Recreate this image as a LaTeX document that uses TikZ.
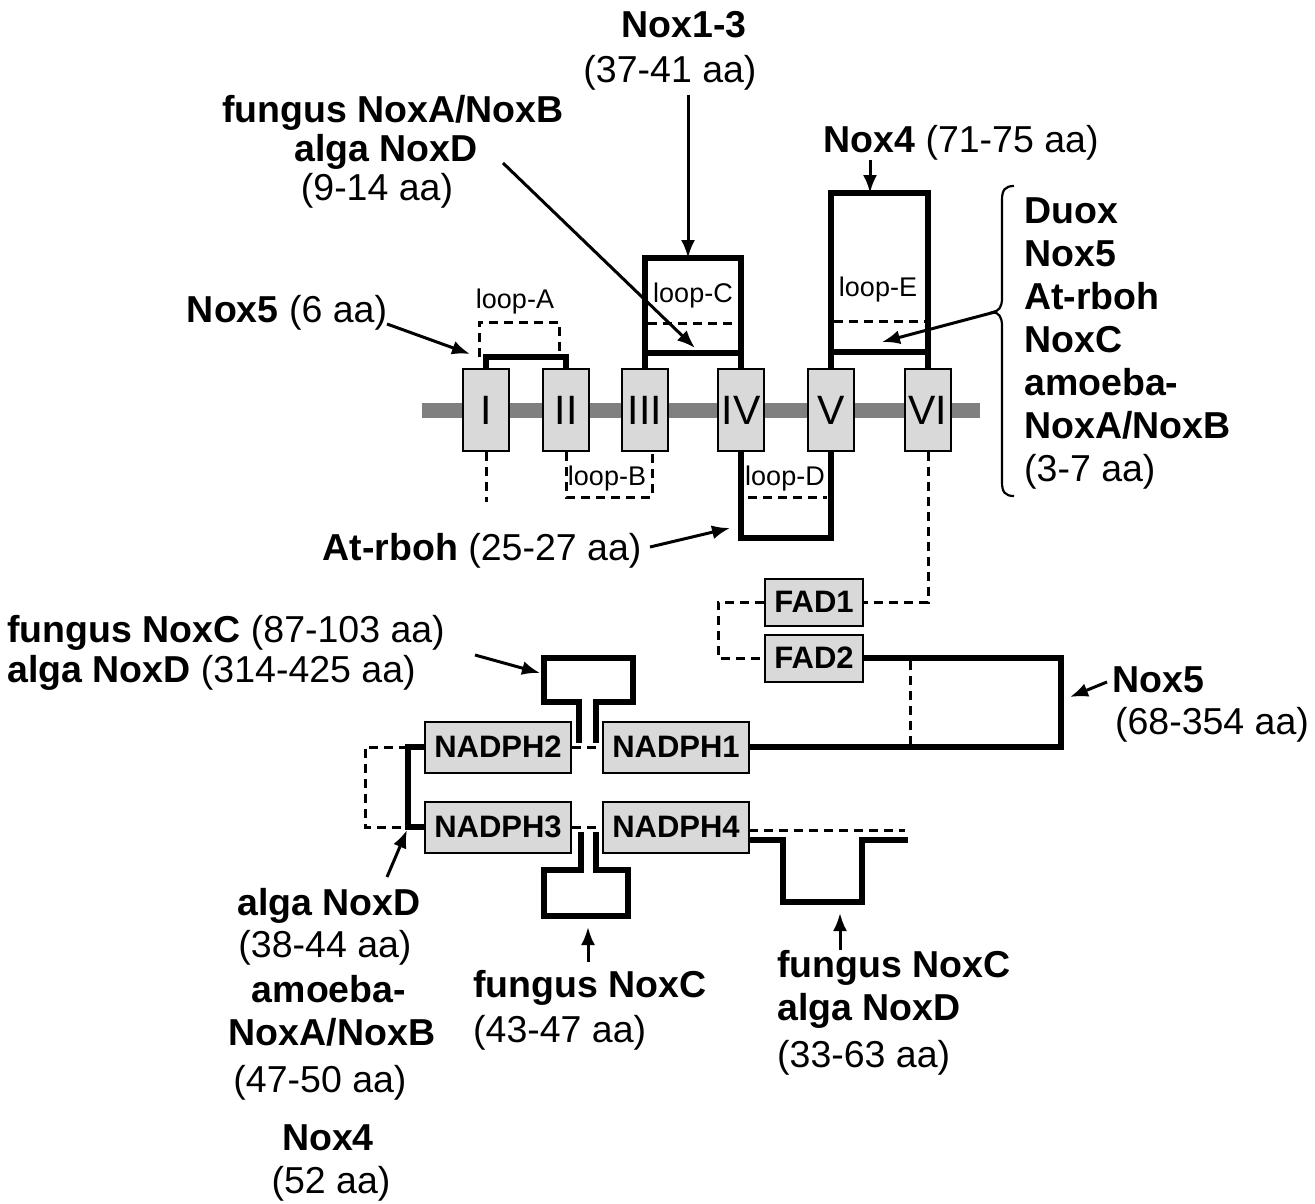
\documentclass[tikz,border=0pt]{standalone}
\usepackage{fontspec}
\setmainfont{Liberation Sans}
\usetikzlibrary{arrows.meta}
\definecolor{boxfill}{HTML}{D9D9D9}
\definecolor{barcol}{HTML}{808080}
\begin{document}
\begin{tikzpicture}[x=1pt,y=-1pt,
  txt/.style={inner sep=0pt, font=\fontsize{37.5}{44}\selectfont},
  looplbl/.style={inner sep=0pt, font=\fontsize{27}{30}\selectfont},
  tmbox/.style={draw=black, line width=2pt, fill=boxfill, minimum width=46pt, minimum height=82pt, inner sep=0pt, font=\fontsize{41}{44}\selectfont},
  dombox/.style={draw=black, line width=2pt, fill=boxfill, inner sep=0pt, font=\fontsize{31}{34}\selectfont\bfseries},
  thk/.style={line width=5.5pt, line join=miter},
  dsh/.style={line width=3pt, dash pattern=on 9pt off 6pt},
  arr/.style={line width=3pt, -{Latex[length=18pt,width=14pt]}},
  brace/.style={line width=2.2pt}
]
\useasboundingbox (0,0) rectangle (1315,1203);
\fill[white] (0,0) rectangle (1315,1203);

% membrane
\coordinate (mL) at (422,410);
\coordinate (mR) at (980,410);
\draw[barcol, line width=15pt] (mL) -- (mR);

% transmembrane boxes
\node[tmbox] (tmI) at (486,410) {I};
\node[tmbox] (tmII) at (566,410) {II};
\node[tmbox] (tmIII) at (645,410) {III};
\node[tmbox] (tmIV) at (741,410) {IV};
\node[tmbox] (tmV) at (831,410) {V};
\node[tmbox] (tmVI) at (928,410) {VI};

% loop A
\draw[dsh] (479,357) -- (479,322) -- (559,322) -- (559,357);
\draw[thk] (tmI.north) -- (486,357) -- (566,357) -- (tmII.north);
\node[looplbl, anchor=base] (lA) at (515,308) {loop-A};

% loop B
\draw[dsh] (tmI.south) -- (486,502);
\draw[dsh] (tmII.south) -- (566,497) -- (652,497) -- (652,451);
\node[looplbl, anchor=base] (lB) at (607,485) {loop-B};

% loop C
\draw[thk] (tmIII.north) -- (645,258) -- (741,258) -- (tmIV.north);
\draw[thk] (645,353) -- (741,353);
\draw[dsh] (648,323) -- (738,323);
\node[looplbl, anchor=base] (lC) at (693,302) {loop-C};

% loop D
\draw[thk] (tmIV.south) -- (741,538) -- (831,538) -- (tmV.south);
\draw[dsh] (748,497) -- (827,497);
\node[looplbl, anchor=base] (lD) at (785,485) {loop-D};

% loop E
\draw[thk] (tmV.north) -- (831,193) -- (928,193) -- (tmVI.north);
\draw[thk] (831,352) -- (928,352);
\draw[dsh] (834,321) -- (925,321);
\node[looplbl, anchor=base] (lE) at (878,296) {loop-E};

% FAD boxes
\node[dombox, minimum width=98pt, minimum height=47pt] (FAD1) at (814,602) {FAD1};
\node[dombox, minimum width=98pt, minimum height=47pt] (FAD2) at (814,658) {FAD2};
\draw[dsh] (tmVI.south) -- (928,602) -- (FAD1.east);
\draw[dsh] (FAD1.west) -- (718,602) -- (718,658) -- (FAD2.west);

% NADPH boxes
\node[dombox, minimum width=146pt, minimum height=51pt] (N1) at (676,747) {NADPH1};
\node[dombox, minimum width=146pt, minimum height=51pt] (N2) at (498,747) {NADPH2};
\node[dombox, minimum width=146pt, minimum height=51pt] (N3) at (498,827) {NADPH3};
\node[dombox, minimum width=146pt, minimum height=51pt] (N4) at (676,827) {NADPH4};

\draw[thk] (FAD2.east) -- (1061,658) -- (1061,747) -- (N1.east);
\draw[dsh] (910,661) -- (910,745);

% top T insertion
\draw[dsh] (N2.east) -- (N1.west);
\draw[thk] (579,743) -- (579,702) -- (544,702) -- (544,658) -- (633,658) -- (633,702) -- (596,702) -- (596,743);

% left link
\draw[dsh] (408,747) -- (365,747) -- (365,827) -- (408,827);
\draw[thk] (N2.west) -- (408,747) -- (408,827) -- (N3.west);

% bottom T insertion
\draw[dsh] (N3.east) -- (N4.west);
\draw[thk] (581,832) -- (581,870) -- (544,870) -- (544,916) -- (628,916) -- (628,870) -- (596,870) -- (596,832);

% C-terminal tail
\draw[dsh] (749,830) -- (905,830);
\draw[thk] (749,840) -- (783,840) -- (783,902) -- (862,902) -- (862,840) -- (908,840);

% bracket
\draw[brace] (1014,186) .. controls (1005,186) and (1002,190) .. (1002,200) -- (1002,298)
  .. controls (1002,307) and (999,311) .. (993,312)
  .. controls (999,313) and (1002,317) .. (1002,326) -- (1002,482)
  .. controls (1002,492) and (1005,496) .. (1014,496);

% texts
\node[txt,anchor=base] (t1) at (684,37) {\textbf{Nox1-3}};
\node[txt,anchor=base] (t2) at (670,82) {(37-41 aa)};
\node[txt,anchor=base] (t3) at (393,122) {\textbf{fungus NoxA/NoxB}};
\node[txt,anchor=base] (t4) at (386,161) {\textbf{alga NoxD}};
\node[txt,anchor=base] (t5) at (377,200) {(9-14 aa)};
\node[txt,anchor=base] (t6) at (961,152) {\textbf{Nox4} (71-75 aa)};
\node[txt,anchor=base] (t7) at (287,322) {\textbf{Nox5} (6 aa)};

\node[txt,anchor=base west] (r1) at (1024,223) {\textbf{Duox}};
\node[txt,anchor=base west] (r2) at (1024,266) {\textbf{Nox5}};
\node[txt,anchor=base west] (r3) at (1024,309) {\textbf{At-rboh}};
\node[txt,anchor=base west] (r4) at (1024,352) {\textbf{NoxC}};
\node[txt,anchor=base west] (r5) at (1024,395) {\textbf{amoeba-}};
\node[txt,anchor=base west] (r6) at (1024,438) {\textbf{NoxA/NoxB}};
\node[txt,anchor=base west] (r7) at (1024,481) {(3-7 aa)};

\node[txt,anchor=base] (t8) at (482,560) {\textbf{At-rboh} (25-27 aa)};
\node[txt,anchor=base west] (t9) at (7,642) {\textbf{fungus NoxC} (87-103 aa)};
\node[txt,anchor=base west] (t10) at (7,682) {\textbf{alga NoxD} (314-425 aa)};
\node[txt,anchor=base west] (t11) at (1112,692) {\textbf{Nox5}};
\node[txt,anchor=base] (t12) at (1212,734) {(68-354 aa)};

\node[txt,anchor=base] (b1) at (329,915) {\textbf{alga NoxD}};
\node[txt,anchor=base] (b2) at (325,957) {(38-44 aa)};
\node[txt,anchor=base] (b3) at (329,1002) {\textbf{amoeba-}};
\node[txt,anchor=base] (b4) at (332,1045) {\textbf{NoxA/NoxB}};
\node[txt,anchor=base] (b5) at (320,1092) {(47-50 aa)};
\node[txt,anchor=base] (b6) at (328,1150) {\textbf{Nox4}};
\node[txt,anchor=base] (b7) at (331,1193) {(52 aa)};

\node[txt,anchor=base west] (m1) at (473,997) {\textbf{fungus NoxC}};
\node[txt,anchor=base west] (m2) at (473,1042) {(43-47 aa)};

\node[txt,anchor=base west] (s1) at (777,977) {\textbf{fungus NoxC}};
\node[txt,anchor=base west] (s2) at (777,1020) {\textbf{alga NoxD}};
\node[txt,anchor=base west] (s3) at (777,1067) {(33-63 aa)};

% arrows
\coordinate (a1s) at (688,95);   \coordinate (a1e) at (688,258);
\coordinate (a2s) at (503,163);  \coordinate (a2e) at (695,348);
\coordinate (a3s) at (870,160);  \coordinate (a3e) at (870,193);
\coordinate (a4s) at (387,324);  \coordinate (a4e) at (470,354);
\coordinate (a5s) at (995,312);  \coordinate (a5e) at (882,342);
\coordinate (a6s) at (650,547);  \coordinate (a6e) at (730,528);
\coordinate (a7s) at (475,655);  \coordinate (a7e) at (540,673);
\coordinate (a8s) at (1107,682); \coordinate (a8e) at (1070,697);
\coordinate (a9s) at (387,877);  \coordinate (a9e) at (407,830);
\coordinate (a10s) at (588,962); \coordinate (a10e) at (588,927);
\coordinate (a11s) at (840,950); \coordinate (a11e) at (840,913);
\draw[arr] (a1s) -- (a1e);
\draw[arr] (a2s) -- (a2e);
\draw[arr] (a3s) -- (a3e);
\draw[arr] (a4s) -- (a4e);
\draw[arr] (a5s) -- (a5e);
\draw[arr] (a6s) -- (a6e);
\draw[arr] (a7s) -- (a7e);
\draw[arr] (a8s) -- (a8e);
\draw[arr] (a9s) -- (a9e);
\draw[arr] (a10s) -- (a10e);
\draw[arr] (a11s) -- (a11e);
\end{tikzpicture}
\end{document}
